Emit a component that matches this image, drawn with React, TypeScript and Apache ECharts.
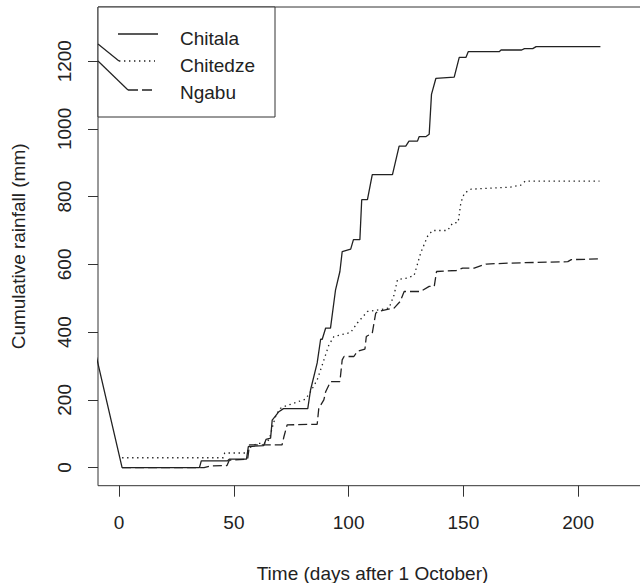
import React, { useEffect, useRef } from "react";
import * as echarts from "echarts";

const seriesNames = ["Chitala", "Chitedze", "Ngabu"];

const chitala: [number, number][] = [
  [-10, 330], [1.3, 0], [35, 0], [35.8, 20], [47.3, 20], [48, 25], [55.5, 25], [56.3, 62],
  [63, 65], [64, 83], [66, 87], [66.7, 140], [68.1, 152], [69.6, 165], [71.6, 174], [82.2, 174],
  [83.4, 229], [86.3, 309], [87.8, 379], [88.5, 379], [90, 412], [92.1, 412], [94.3, 525],
  [96.2, 579], [97.2, 638], [100.9, 645], [102.1, 673], [104.9, 673], [105.7, 791], [108.2, 791],
  [110.3, 865], [119.1, 865], [122, 949], [124.9, 949], [126.3, 964], [130, 964], [130.7, 977],
  [133.6, 977], [135.1, 984], [136.1, 1102], [138, 1149], [146, 1153], [148.2, 1211], [151.1, 1211],
  [152.1, 1228], [165.6, 1228], [166.4, 1233], [175.4, 1233], [176.6, 1237], [180.2, 1237],
  [181.7, 1243], [209.7, 1243],
];

const chitedze: [number, number][] = [
  [1.3, 29], [45.4, 29], [46, 43], [55.7, 43], [56.5, 57], [60, 71], [64, 72], [65.5, 85],
  [67, 125], [68.5, 158], [70.3, 175], [71.8, 180], [81.2, 202], [83.4, 224], [86.3, 259],
  [88.5, 303], [91.4, 362], [93.6, 387], [100.9, 399], [103.8, 427], [108.2, 461], [113.2, 466],
  [117.6, 471], [119.8, 510], [121.3, 555], [125.6, 560], [128.5, 567], [129.7, 594], [131.4, 634],
  [134.4, 683], [136.5, 700], [143.1, 700], [145.3, 722], [147.7, 724], [148.9, 782], [150.4, 810],
  [153.3, 822], [170.5, 828], [175, 834], [177, 846], [209.3, 846],
];

const ngabu: [number, number][] = [
  [1.3, 0], [37, 0], [40, 5], [47, 6], [48, 22], [56, 25], [56.8, 67], [71, 67], [71.8, 91],
  [73.2, 126], [86.3, 128], [87, 175], [89.2, 200], [90, 224], [92.1, 254], [96.2, 254],
  [97.2, 318], [98, 328], [102.3, 328], [103.8, 343], [107.1, 350], [107.7, 387], [110.3, 397],
  [111.8, 456], [112.8, 461], [119.8, 471], [122.4, 490], [124.2, 520], [131.4, 520], [135.1, 535],
  [137.3, 535], [138.3, 579], [147, 582], [149.7, 589], [154.7, 589], [158.4, 598], [160, 601],
  [171, 604], [195.5, 608], [197, 614], [208.6, 616],
];

const xTicks = [0, 50, 100, 150, 200];
const yTicks = [0, 200, 400, 600, 800, 1000, 1200];

const xTitle = "Time (days after 1 October)";
const yTitle = "Cumulative rainfall (mm)";

const FONT = "'Liberation Sans', Arial, Helvetica, sans-serif";
const INK = "#222";

export default function App() {
  const ref = useRef<HTMLDivElement>(null);
  useEffect(() => {
    if (!ref.current) return;
    const chart = echarts.init(ref.current, null, { renderer: "svg" });
    const lineStyles: any[] = [
      { color: INK, width: 1.3, type: "solid" },
      { color: INK, width: 1.3, type: [1.4, 3.6] },
      { color: INK, width: 1.3, type: [9, 4] },
    ];
    const datasets = [chitala, chitedze, ngabu];
    const legendY = [34, 61, 90];
    const legendTextY = [38.3, 65.3, 92.3];
    const sampleX = [[118, 158], [119, 155], [128, 152]];
    chart.setOption({
      animation: false,
      backgroundColor: "#fff",
      grid: {
        left: 98,
        top: 7,
        width: 549,
        height: 478.7,
        show: true,
        borderColor: "#333",
        borderWidth: 1,
        backgroundColor: "transparent",
        containLabel: false,
        outerBoundsMode: "none",
      },
      xAxis: {
        type: "value",
        min: -9.2,
        max: 230,
        position: "bottom",
        axisLine: { show: false, onZero: false },
        splitLine: { show: false },
        axisTick: {
          show: true,
          inside: false,
          length: 11,
          customValues: xTicks,
          lineStyle: { color: "#333", width: 1 },
        },
        axisLabel: {
          show: true,
          customValues: xTicks,
          formatter: (v: number) => String(v),
          margin: 27,
          color: INK,
          fontSize: 19,
          fontFamily: FONT,
        },
      },
      yAxis: {
        type: "value",
        min: -53.5,
        max: 1360,
        position: "left",
        axisLine: { show: false, onZero: false },
        splitLine: { show: false },
        axisTick: {
          show: true,
          inside: false,
          length: 10,
          customValues: yTicks,
          lineStyle: { color: "#333", width: 1 },
        },
        axisLabel: {
          show: true,
          customValues: yTicks,
          formatter: (v: number) => String(v),
          rotate: 90,
          margin: 24,
          color: INK,
          fontSize: 19,
          fontFamily: FONT,
        },
      },
      series: datasets.map((d, i) => ({
        name: seriesNames[i],
        type: "line",
        data: d,
        showSymbol: false,
        symbol: "none",
        clip: true,
        lineStyle: lineStyles[i],
        z: 2,
      })),
      graphic: [
        {
          type: "rect",
          z: 100,
          shape: { x: 98, y: 7, width: 177, height: 110 },
          style: { fill: "#fff", stroke: "#333", lineWidth: 1 },
        },
        ...seriesNames.map((_, i) => ({
          type: "line",
          z: 101,
          shape: { x1: sampleX[i][0], y1: legendY[i], x2: sampleX[i][1], y2: legendY[i] },
          style: {
            stroke: INK,
            lineWidth: 1.3,
            lineDash: i === 0 ? null : i === 1 ? [1.4, 3.6] : [10, 4],
          },
        })),
        {
          type: "line",
          z: 101,
          shape: { x1: 98, y1: 44, x2: 119, y2: 61 },
          style: { stroke: INK, lineWidth: 1.2 },
        },
        {
          type: "line",
          z: 101,
          shape: { x1: 98, y1: 61, x2: 128, y2: 90 },
          style: { stroke: INK, lineWidth: 1.2 },
        },
        ...seriesNames.map((n, i) => ({
          type: "text",
          z: 101,
          x: 180,
          y: legendTextY[i],
          style: {
            text: n,
            fill: INK,
            fontSize: 19,
            fontFamily: FONT,
            textAlign: "left",
            textVerticalAlign: "middle",
          },
        })),
        {
          type: "text",
          z: 101,
          x: 372.5,
          y: 573,
          style: {
            text: xTitle,
            fill: INK,
            fontSize: 19,
            fontFamily: FONT,
            textAlign: "center",
            textVerticalAlign: "middle",
          },
        },
        {
          type: "text",
          z: 101,
          x: 18,
          y: 246.4,
          rotation: Math.PI / 2,
          style: {
            text: yTitle,
            fill: INK,
            fontSize: 19,
            fontFamily: FONT,
            textAlign: "center",
            textVerticalAlign: "middle",
          },
        },
      ],
    });
    return () => chart.dispose();
  }, []);
  return (
    <div
      ref={ref}
      style={{ position: "absolute", left: 0, top: 0, width: 640, height: 583 }}
    />
  );
}
